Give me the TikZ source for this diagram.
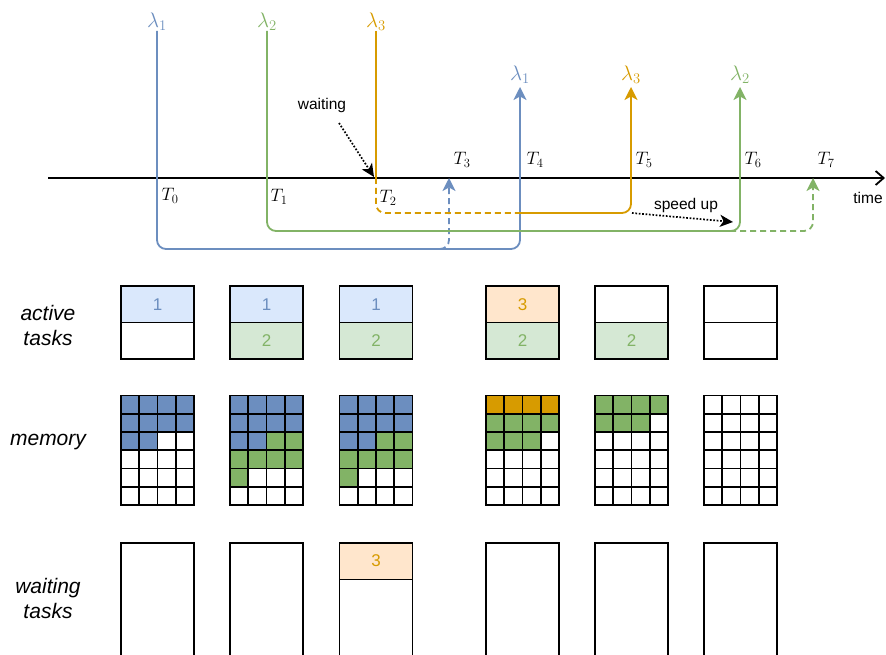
\documentclass[tikz,border=0pt]{standalone}
\usepackage{fix-cm}
\usepackage[no-math]{fontspec}
\setmainfont{Liberation Sans}
\usetikzlibrary{arrows.meta}
\definecolor{cblue}{HTML}{6C8EBF}
\definecolor{cbluef}{HTML}{DAE8FC}
\definecolor{cgreen}{HTML}{82B366}
\definecolor{cgreenf}{HTML}{D5E8D4}
\definecolor{corange}{HTML}{D79B00}
\definecolor{corangef}{HTML}{FFE6CC}
\begin{document}
\begin{tikzpicture}[x=1pt,y=-1pt,
  flow/.style={line width=1.8pt, rounded corners=9pt},
  tipc/.style={-{Stealth[length=13pt,width=13pt,inset=3.5pt]}},
  dsh/.style={dash pattern=on 6pt off 4pt},
  dotarrow/.style={line width=1.7pt, dash pattern=on 1.7pt off 1.7pt, -{Stealth[length=13pt,width=12pt,inset=3.5pt]}},
  lam/.style={font=\fontsize{21}{21}\selectfont, inner sep=0pt},
  tlab/.style={font=\fontsize{18}{18}\selectfont, inner sep=0pt},
  small/.style={font=\fontsize{15.5}{18}\selectfont, inner sep=0pt},
  rowlab/.style={font=\fontsize{21}{25}\selectfont\itshape, align=center, inner sep=0pt},
  half/.style={draw, line width=1.5pt, minimum width=73pt, minimum height=36.5pt, inner sep=0pt, font=\fontsize{17}{17}\selectfont},
  wbox/.style={draw, line width=1.5pt, minimum width=73pt, minimum height=140pt, inner sep=0pt, anchor=north},
  cellbox/.style={line width=1.8pt},
]
\useasboundingbox (0,0) rectangle (886,655);
\clip (0,0) rectangle (886,655);

% ---------- row labels ----------
\node[rowlab] (labA) at (48,325) {active\\tasks};
\node[rowlab] (labM) at (48,442) {memory};
\node[rowlab] (labW) at (48,598) {waiting\\tasks};

% ---------- timeline ----------
\coordinate (tl0) at (48,178);
\coordinate (tl1) at (885,178);
\draw[line width=1.8pt, -{Straight Barb[length=8pt,width=14pt]}] (tl0) -- (tl1);
\node[small] (timelab) at (868,198) {time};

% time marks
\node[tlab] (T0) at (170,196) {$T_0$};
\node[tlab] (T1) at (279,197) {$T_1$};
\node[tlab] (T2) at (388,198) {$T_2$};
\node[tlab] (T3) at (462,160) {$T_3$};
\node[tlab] (T4) at (535,160) {$T_4$};
\node[tlab] (T5) at (644,160) {$T_5$};
\node[tlab] (T6) at (753,160) {$T_6$};
\node[tlab] (T7) at (826,160) {$T_7$};

% lambda labels
\node[lam, text=cblue, anchor=south] (l1a) at (157,31) {$\lambda_1$};
\node[lam, text=cgreen, anchor=south] (l2a) at (267,31) {$\lambda_2$};
\node[lam, text=corange, anchor=south] (l3a) at (376,31) {$\lambda_3$};
\node[lam, text=cblue, anchor=south, inner ysep=3pt] (l1b) at (520,87) {$\lambda_1$};
\node[lam, text=corange, anchor=south, inner ysep=3pt] (l3b) at (631,87) {$\lambda_3$};
\node[lam, text=cgreen, anchor=south, inner ysep=3pt] (l2b) at (740,87) {$\lambda_2$};

\coordinate (T2p) at (376,178);
\coordinate (T3p) at (449,178);
\coordinate (T7p) at (813,178);

% blue
\draw[flow, cblue, tipc] (l1a.south) -- (157,249) -- (520,249) -- (l1b.south);
\draw[flow, cblue, dsh, tipc] (420,249) -- (449,249) -- (T3p);
% orange
\draw[flow, corange] (l3a.south) -- (T2p);
\draw[flow, corange, dsh] (T2p) -- (376,213) -- (520,213);
\draw[flow, corange, tipc] (520,213) -- (631,213) -- (l3b.south);
% green
\draw[flow, cgreen, tipc] (l2a.south) -- (267,231) -- (740,231) -- (l2b.south);
\draw[flow, cgreen, dsh, tipc] (720,231) -- (813,231) -- (T7p);

% annotations
\node[small] (waitlab) at (322,105) {waiting};
\coordinate (wa1) at (339,123);
\coordinate (wa2) at (374,177);
\draw[dotarrow] (wa1) -- (wa2);
\node[small] (speedlab) at (686,205) {speed up};
\coordinate (sp1) at (632,213);
\coordinate (sp2) at (733,222);
\draw[dotarrow] (sp1) -- (sp2);

% ---------- active tasks ----------
\foreach \i/\cx/\fa/\xa/\ka/\fb/\xb/\kb in {
  1/157.5/cbluef/1/cblue/white//black,
  2/266.5/cbluef/1/cblue/cgreenf/2/cgreen,
  3/376/cbluef/1/cblue/cgreenf/2/cgreen,
  4/522.5/corangef/3/corange/cgreenf/2/cgreen,
  5/631.5/white//black/cgreenf/2/cgreen,
  6/740.5/white//black/white//black} {
  \node[half, fill=\fa, text=\ka] (at\i) at (\cx,304.25) {\xa};
  \node[half, fill=\fb, text=\kb] (ab\i) at (\cx,340.75) {\xb};
}

% ---------- memory ----------
\foreach \i/\x/\ca/\na/\cbb/\nb in {
  1/121/cblue/10/cgreen/0,
  2/230/cblue/10/cgreen/7,
  3/339.5/cblue/10/cgreen/7,
  4/486/corange/4/cgreen/7,
  5/595/cgreen/7/white/0,
  6/704/white/0/white/0} {
  \pgfmathtruncatemacro\nab{\na+\nb}
  \foreach \k in {0,...,23} {
    \pgfmathtruncatemacro\gr{div(\k,4)}
    \pgfmathtruncatemacro\gc{mod(\k,4)}
    \ifnum\k<\na \edef\fc{\ca}\else\ifnum\k<\nab \edef\fc{\cbb}\else\def\fc{white}\fi\fi
    \draw[cellbox, fill=\fc] (\x+\gc*18.25, 395.5+\gr*18.25) rectangle ++(18.25,18.25);
  }
}

% ---------- waiting tasks ----------
\foreach \i/\cx in {1/157.5, 2/266.5, 3/376, 4/522.5, 5/631.5, 6/740.5} {
  \node[wbox] (w\i) at (\cx,542) {};
}
\node[half, fill=corangef, text=corange, anchor=north] (w3t) at (376,542) {3};
\end{tikzpicture}
\end{document}
